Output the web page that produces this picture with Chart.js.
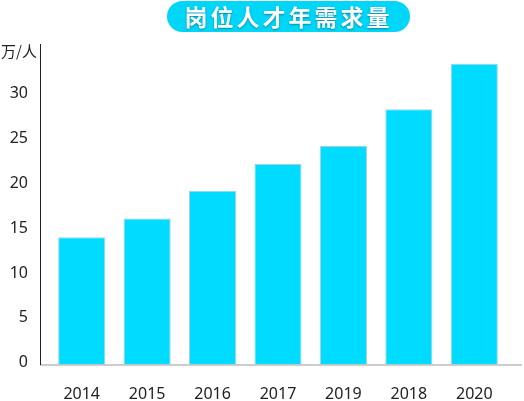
<!DOCTYPE html>
<html>
<head>
<meta charset="utf-8">
<script src="https://cdn.jsdelivr.net/npm/chart.js@4/dist/chart.umd.min.js"></script>
<style>
  html, body { margin: 0; padding: 0; background: #fff; }
  #wrap { position: relative; width: 524px; height: 401px; }
  #title {
    position: absolute; left: 167px; top: 1px; width: 243px; height: 31px;
    border-radius: 16px; background: #00d6f7; color: #fff;
    font: bold 23px "Noto Sans CJK SC", sans-serif; letter-spacing: 3px;
    text-align: center; line-height: 31px;
    text-shadow: 0 1px 2px rgba(0, 60, 80, 0.5);
  }
</style>
</head>
<body>
<div id="wrap">
  <canvas id="chart" width="524" height="401"></canvas>
  <div id="title">岗位人才年需求量</div>
</div>
<script>
const years = ['2014', '2015', '2016', '2017', '2019', '2018', '2020'];
const demand = [14.2, 16.3, 19.4, 22.4, 24.4, 28.5, 33.6];
const unitLabel = '万/人';

// axis lines + unit text drawn by hand, the ref's axes sit outside the bar area
const axisLines = {
  id: 'axisLines',
  afterDraw(chart) {
    const { ctx, chartArea } = chart;
    const y0 = chartArea.bottom + 0.5;
    ctx.save();
    ctx.lineWidth = 1;
    ctx.strokeStyle = '#999';
    ctx.beginPath();
    ctx.moveTo(40, y0);
    ctx.lineTo(522, y0);
    ctx.stroke();
    ctx.strokeStyle = '#222';
    ctx.beginPath();
    ctx.moveTo(40.5, chartArea.top);
    ctx.lineTo(40.5, y0);
    ctx.stroke();
    ctx.fillStyle = '#222';
    ctx.font = '15px "Noto Sans CJK SC", sans-serif';
    ctx.textAlign = 'right';
    ctx.textBaseline = 'middle';
    ctx.fillText(unitLabel, 37, 51);
    ctx.restore();
  }
};

const ctx = document.getElementById('chart').getContext('2d');
new Chart(ctx, {
  type: 'bar',
  data: {
    labels: years,
    datasets: [{
      data: demand,
      backgroundColor: '#00dcff',
      borderColor: 'rgba(90, 170, 190, 0.55)',
      borderWidth: 1,
      borderSkipped: 'bottom',
      barPercentage: 0.72,
      categoryPercentage: 1
    }]
  },
  options: {
    responsive: false,
    animation: false,
    layout: { padding: { top: 44, right: 17, bottom: 0, left: 0 } },
    plugins: {
      legend: { display: false },
      tooltip: { enabled: false }
    },
    scales: {
      x: {
        grid: { display: false, drawTicks: false },
        border: { display: false },
        ticks: { color: '#222', padding: 20, font: { family: '"Noto Sans"', size: 16 } },
        afterFit: s => { s.height = 36.5; }
      },
      y: {
        min: 0,
        max: 35.8,
        grid: { display: false, drawTicks: false },
        border: { display: false },
        ticks: {
          stepSize: 5,
          color: '#222',
          padding: 21,
          labelOffset: -2,
          font: { family: '"Noto Sans"', size: 16 },
          callback: v => (v <= 30 ? v : '')
        },
        afterFit: s => { s.width = 49; }
      }
    }
  },
  plugins: [axisLines]
});
</script>
</body>
</html>
